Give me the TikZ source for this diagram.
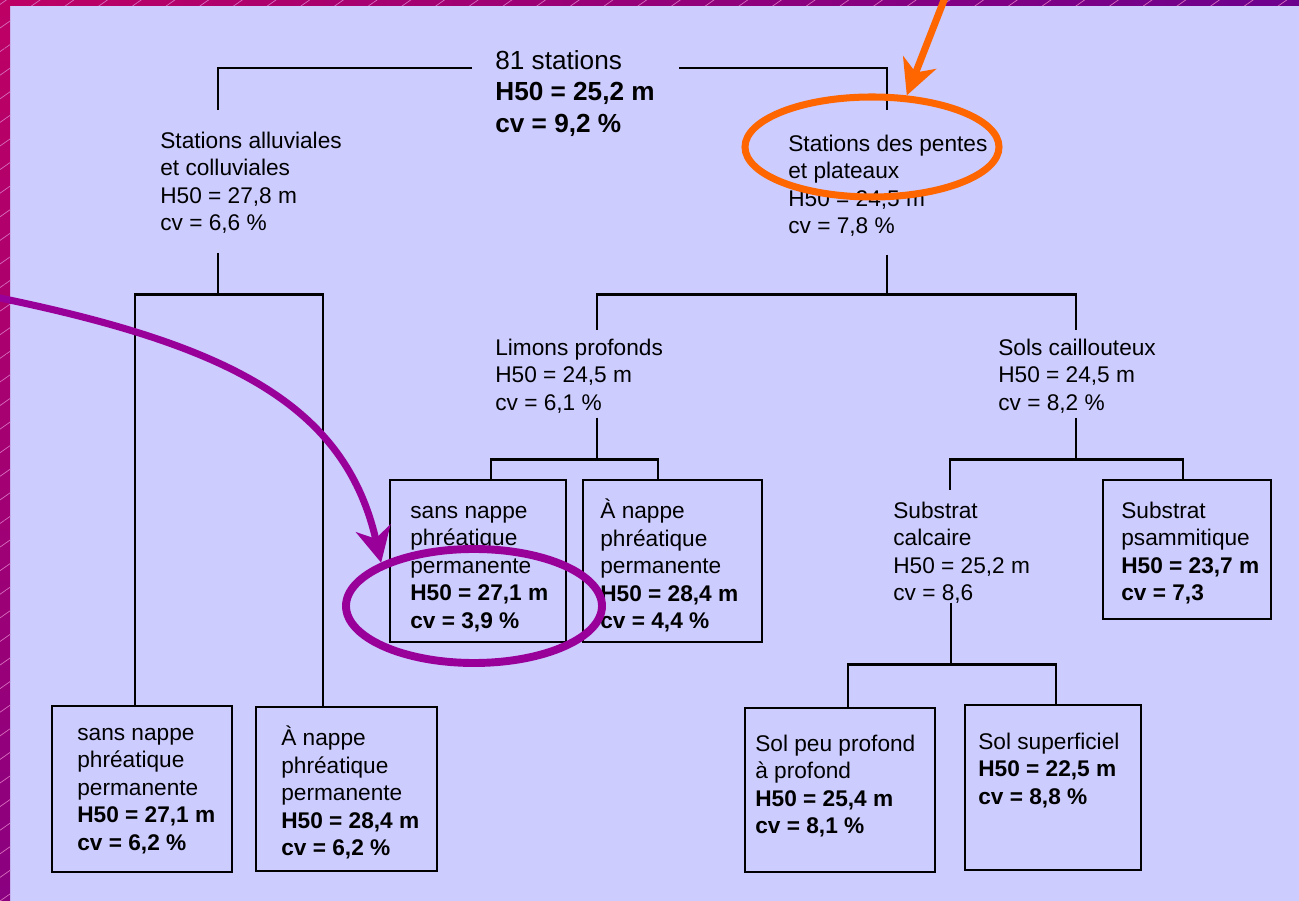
\documentclass[tikz,border=0pt]{standalone}
\usepackage{fontspec}
\setmainfont{Liberation Sans}
\usepackage{xcolor}
\usepackage{tikz}
\usetikzlibrary{arrows.meta, shapes.geometric, patterns.meta, positioning}
\definecolor{fond}{RGB}{204, 204, 255}
\definecolor{orangevif}{RGB}{255, 102, 0}
\definecolor{violetvif}{RGB}{153, 0, 153}
\definecolor{cadrehaut}{RGB}{190, 0, 100}
\definecolor{cadrebas}{RGB}{138, 0, 128}
\definecolor{cadredroite}{RGB}{108, 0, 142}
\definecolor{hachure}{RGB}{215, 110, 190}
\newdimen\px \px=0.02cm
\tikzset{
    txtnode/.style = {draw=none, fill=none, rectangle, inner sep=0pt, anchor=north west, align=left,
      font=\fontsize{12.9pt}{15.65pt}\selectfont},
    bignode/.style = {txtnode, font=\fontsize{14.9pt}{17.9pt}\selectfont},
    boxnode/.style = {draw, rectangle, line width=1.4pt, inner sep=0pt, outer sep=0pt, anchor=north west},
    hlnode/.style = {draw, ellipse, fill=none, inner sep=0pt, line width=4pt},
    link/.style = {black, line width=1.4pt},
    hlarrow/.style = {line width=4pt, -{Stealth[length=20pt, width=20pt, inset=6pt]}}
}

\begin{document}
\begin{tikzpicture}[x=0.02cm, y=-0.02cm]
\useasboundingbox (0,0) rectangle (1299,901);
\fill[fond] (0,0) rectangle (1299,901);
\shade[top color=cadrehaut, bottom color=cadrebas] (0,0) rectangle (10,901);
\shade[left color=cadrehaut, right color=cadredroite] (0,0) rectangle (1299,6);
\fill[pattern={Lines[angle=35, distance=11pt, line width=0.4pt]}, pattern color=hachure]
  (0,0) rectangle (10,901) (10,0) rectangle (1299,6);

\node[bignode, name=root] at (495,46.9) {\strut 81 stations\\\textbf{H50 = 25,2 m}\\\textbf{cv = 9,2 \%}};
\node[txtnode, name=alluv] at (160,128.7) {\strut Stations alluviales\\et colluviales\\H50 = 27,8 m\\cv = 6,6 \%};
\node[txtnode, name=pentes] at (788,131.7) {\strut Stations des pentes\\et plateaux\\H50 = 24,5 m\\cv = 7,8 \%};
\node[txtnode, name=limons] at (495,335.7) {\strut Limons profonds\\H50 = 24,5 m\\cv = 6,1 \%};
\node[txtnode, name=sols] at (998,335.7) {\strut Sols caillouteux\\H50 = 24,5 m\\cv = 8,2 \%};
\node[txtnode, name=calc] at (893,498.7) {\strut Substrat\\calcaire\\H50 = 25,2 m\\cv = 8,6};

\node[boxnode, minimum width=180\px, minimum height=166\px, name=b1] at (52,706) {};
\node[txtnode, name=b1t] at ([shift={(25,14.7)}]b1.north west)
  {\strut sans nappe\\phréatique\\permanente\\\textbf{H50 = 27,1 m}\\\textbf{cv = 6,2 \%}};
\node[boxnode, minimum width=181\px, minimum height=164\px, name=b2] at (256,707) {};
\node[txtnode, name=b2t] at ([shift={(25,18.7)}]b2.north west)
  {\strut À nappe\\phréatique\\permanente\\\textbf{H50 = 28,4 m}\\\textbf{cv = 6,2 \%}};
\node[boxnode, minimum width=176\px, minimum height=162\px, name=sb1] at (390,480) {};
\node[txtnode, name=sb1t] at ([shift={(20,18.7)}]sb1.north west)
  {\strut sans nappe\\phréatique\\permanente\\\textbf{H50 = 27,1 m}\\\textbf{cv = 3,9 \%}};
\node[boxnode, minimum width=179\px, minimum height=162\px, name=sb2] at (583,480) {};
\node[txtnode, name=sb2t] at ([shift={(17,18.7)}]sb2.north west)
  {\strut À nappe\\phréatique\\permanente\\\textbf{H50 = 28,4 m}\\\textbf{cv = 4,4 \%}};
\node[boxnode, minimum width=168\px, minimum height=139\px, name=psam] at (1103,480) {};
\node[txtnode, name=psamt] at ([shift={(18,18.7)}]psam.north west)
  {\strut Substrat\\psammitique\\\textbf{H50 = 23,7 m}\\\textbf{cv = 7,3}};
\node[boxnode, minimum width=190\px, minimum height=164\px, name=peu] at (745,708) {};
\node[txtnode, name=peut] at ([shift={(10,23.7)}]peu.north west)
  {\strut Sol peu profond\\à profond\\\textbf{H50 = 25,4 m}\\\textbf{cv = 8,1 \%}};
\node[boxnode, minimum width=176\px, minimum height=165\px, name=sup] at (965,705) {};
\node[txtnode, name=supt] at ([shift={(13,24.7)}]sup.north west)
  {\strut Sol superficiel\\\textbf{H50 = 22,5 m}\\\textbf{cv = 8,8 \%}};

\draw[link] ([shift={(-23,21)}]root.north west) -| ([shift={(58,-19)}]alluv.north west);
\draw[link] ([shift={(24,21)}]root.north east) -| ([shift={(99,-22)}]pentes.north west);

\draw[link] ([shift={(58,124)}]alluv.north west) -- ++(0,42) coordinate (alluvbar);
\draw[link] ([shift={(83,0)}]b1.north west) |- (alluvbar) -| ([shift={(67,0)}]b2.north west);

\draw[link] ([shift={(99,123)}]pentes.north west) -- ++(0,40) coordinate (pentesbar);
\draw[link] ([shift={(102,-6)}]limons.north west) |- (pentesbar) -| ([shift={(78,-6)}]sols.north west);

\draw[link] ([shift={(102,82)}]limons.north west) -- ++(0,42) coordinate (limonsbar);
\draw[link] ([shift={(101,0)}]sb1.north west) |- (limonsbar) -| ([shift={(75,0)}]sb2.north west);

\draw[link] ([shift={(78,82)}]sols.north west) -- ++(0,42) coordinate (solsbar);
\draw[link] ([shift={(57,-9)}]calc.north west) |- (solsbar) -| ([shift={(80,0)}]psam.north west);

\draw[link] ([shift={(58,104)}]calc.north west) -- ++(0,62) coordinate (calcbar);
\draw[link] ([shift={(103,0)}]peu.north west) |- (calcbar) -| ([shift={(91,0)}]sup.north west);

\node[hlnode, draw=orangevif, minimum width=254\px, minimum height=100\px, name=hlpentes] at (872,147) {};
\node[hlnode, draw=violetvif, line width=4.5pt, minimum width=256\px, minimum height=114\px, name=hlnappe] at (474,606) {};

\coordinate (orgstart) at (946,-5);
\draw[hlarrow, orangevif] (orgstart) -- (hlpentes.56);
\coordinate (violstart) at (-5,297);
\draw[hlarrow, violetvif] (violstart) .. controls (230,345) and (345,405) .. (hlnappe.155);
\end{tikzpicture}
\end{document}
